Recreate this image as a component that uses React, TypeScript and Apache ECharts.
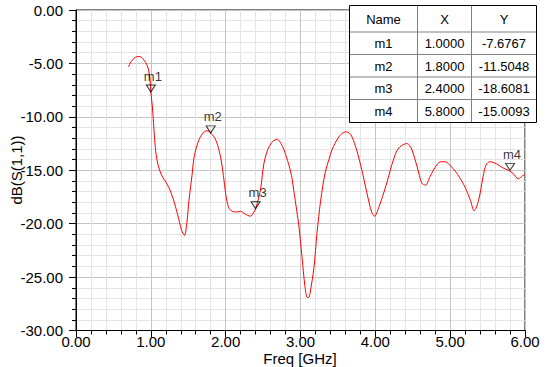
import React, { useEffect, useRef } from "react";
import * as echarts from "echarts";

const freqGHz = [
  0.70, 0.74, 0.78, 0.83, 0.87, 0.91, 0.945, 0.97, 0.99, 1.00, 1.02, 1.035, 1.05, 1.07, 1.10, 1.14, 1.19, 1.24, 1.30,
  1.36, 1.41, 1.45, 1.48, 1.51, 1.55, 1.58, 1.64, 1.70, 1.75, 1.80, 1.87, 1.93, 1.97, 2.00, 2.04, 2.09, 2.15, 2.20,
  2.26, 2.33, 2.37, 2.40, 2.44, 2.47, 2.51, 2.55, 2.58, 2.63, 2.69, 2.74, 2.78, 2.84, 2.88, 2.91, 2.95, 2.98, 3.02,
  3.06, 3.09, 3.11, 3.13, 3.18, 3.22, 3.27, 3.33, 3.38, 3.42, 3.51, 3.60, 3.65, 3.69, 3.75, 3.82, 3.89, 3.95, 3.99,
  4.05, 4.14, 4.22, 4.28, 4.33, 4.42, 4.46, 4.49, 4.56, 4.62, 4.67, 4.73, 4.82, 4.88, 4.93, 5.02, 5.11, 5.20, 5.27,
  5.32, 5.38, 5.44, 5.48, 5.53, 5.62, 5.71, 5.78, 5.84, 5.91, 5.97, 6.00,
];
const s11dB = [
  -5.3, -4.8, -4.5, -4.35, -4.4, -4.7, -5.1, -5.6, -6.6, -7.68, -9.0, -10.5, -12.0, -13.5, -14.6, -15.4, -16.0, -16.6, -17.7,
  -19.2, -20.6, -21.1, -20.0, -17.8, -15.5, -13.7, -12.2, -11.5, -11.3, -11.5, -12.2, -13.7, -15.5, -17.2, -18.5, -18.85, -18.9, -18.85,
  -19.1, -19.3, -19.0, -18.6, -17.6, -16.6, -14.4, -13.3, -12.8, -12.3, -12.1, -12.5, -13.1, -14.4, -15.5, -16.9, -18.8, -20.3, -23.1,
  -25.9, -26.9, -26.9, -26.4, -24.1, -20.9, -17.8, -15.2, -14.0, -13.1, -11.9, -11.4, -11.5, -11.9, -13.1, -15.0, -17.2, -18.9, -19.3,
  -18.4, -16.5, -14.5, -13.3, -12.8, -12.5, -12.7, -13.1, -14.7, -16.2, -16.4, -15.6, -14.5, -14.2, -14.2, -14.7, -15.5, -16.6, -17.8,
  -18.8, -17.8, -15.6, -14.5, -14.2, -14.4, -14.8, -15.0, -15.3, -15.8, -15.5, -15.4,
];

const markerNames = ["m1", "m2", "m3", "m4"];
const markerFreq = [1.0, 1.8, 2.4, 5.8];
const markerDb = [-7.6767, -11.5048, -18.6081, -15.0093];
const tableHeader = ["Name", "X", "Y"];

const xTitle = "Freq [GHz]";
const yTitle = "dB(S(1,1))";

const FONT = 'Arial, "Liberation Sans", sans-serif';

export default function App() {
  const ref = useRef<HTMLDivElement>(null);
  useEffect(() => {
    if (!ref.current) return;
    document.body.style.margin = "0";
    const chart = echarts.init(ref.current, null, { renderer: "svg" });

    const colX = [349, 417, 471, 536];
    const rowY = [5, 31.5, 54, 76.5, 99, 122];
    const tableRows: string[][] = [tableHeader].concat(
      markerNames.map((n, i) => [n, markerFreq[i].toFixed(4), markerDb[i].toFixed(4)])
    );
    const tableEls: any[] = [];
    tableEls.push({
      type: "rect",
      shape: { x: colX[0] + 0.5, y: rowY[0] + 0.5, width: colX[3] - colX[0], height: rowY[5] - rowY[0] },
      style: { fill: "#fff", stroke: "none" },
      z: 100,
    });
    for (let r = 1; r < rowY.length - 1; r++) {
      tableEls.push({
        type: "line",
        shape: { x1: colX[0], y1: rowY[r] + 0.5, x2: colX[3], y2: rowY[r] + 0.5 },
        style: { stroke: "#808080", lineWidth: 1 },
        z: 101,
      });
    }
    for (let c = 1; c < colX.length - 1; c++) {
      tableEls.push({
        type: "line",
        shape: { x1: colX[c] + 0.5, y1: rowY[0], x2: colX[c] + 0.5, y2: rowY[5] },
        style: { stroke: "#808080", lineWidth: 1 },
        z: 101,
      });
    }
    tableEls.push({
      type: "rect",
      shape: { x: colX[0] + 0.5, y: rowY[0] + 0.5, width: colX[3] - colX[0], height: rowY[5] - rowY[0] },
      style: { fill: "none", stroke: "#000", lineWidth: 1 },
      z: 102,
    });
    tableRows.forEach((row, r) => {
      row.forEach((txt, c) => {
        tableEls.push({
          type: "text",
          x: (colX[c] + colX[c + 1]) / 2 + 0.5,
          y: (rowY[r] + rowY[r + 1]) / 2 + 1,
          style: {
            text: txt,
            fill: "#000",
            font: `13px ${FONT}`,
            align: "center",
            verticalAlign: "middle",
          },
          z: 103,
        });
      });
    });

    chart.setOption({
      animation: false,
      backgroundColor: "#fff",
      textStyle: { fontFamily: FONT },
      grid: {
        left: 76,
        right: 21,
        top: 10,
        bottom: 36.5,
        show: true,
        borderColor: "#000",
        borderWidth: 1,
        backgroundColor: "#fff",
        outerBoundsMode: "none",
      },
      xAxis: {
        type: "value",
        min: 0,
        max: 6,
        interval: 1,
        axisLine: { show: true, onZero: false, lineStyle: { color: "#000", width: 1 } },
        axisTick: { show: true, inside: false, length: 7, lineStyle: { color: "#000" } },
        minorTick: { show: true, splitNumber: 5, length: 4, lineStyle: { color: "#000" } },
        splitLine: { show: true, lineStyle: { color: "#c4c4c4", width: 1 } },
        minorSplitLine: { show: true, lineStyle: { color: "#e4e4e4", width: 1 } },
        axisLabel: {
          formatter: (v: number) => v.toFixed(2),
          fontSize: 15,
          lineHeight: 14,
          color: "#000",
          margin: 4,
          fontFamily: FONT,
        },
      },
      yAxis: {
        type: "value",
        min: -30,
        max: 0,
        interval: 5,
        axisLine: { show: true, onZero: false, lineStyle: { color: "#000", width: 1 } },
        axisTick: { show: true, inside: false, length: 7, lineStyle: { color: "#000" } },
        minorTick: { show: true, splitNumber: 5, length: 4, lineStyle: { color: "#000" } },
        splitLine: { show: true, lineStyle: { color: "#c4c4c4", width: 1 } },
        minorSplitLine: { show: true, lineStyle: { color: "#e4e4e4", width: 1 } },
        axisLabel: {
          formatter: (v: number) => v.toFixed(2),
          fontSize: 15,
          color: "#000",
          margin: 13,
          fontFamily: FONT,
        },
      },
      graphic: [
        {
          type: "text",
          x: 300,
          y: 358,
          style: { text: xTitle, font: `15px ${FONT}`, lineHeight: 15, fill: "#000", align: "center", verticalAlign: "middle" },
        },
        {
          type: "text",
          x: 16,
          y: 170,
          rotation: Math.PI / 2,
          style: { text: yTitle, font: `15px ${FONT}`, fill: "#000", align: "center", verticalAlign: "middle" },
        },
        ...tableEls,
      ],
      series: [
        {
          type: "line",
          data: freqGHz.map((f, i) => [f, s11dB[i]]),
          showSymbol: false,
          symbol: "none",
          smooth: 0.3,
          lineStyle: { color: "#ff0000", width: 1 },
          z: 3,
        },
        {
          type: "scatter",
          data: markerFreq.map((f, i) => ({ name: markerNames[i], value: [f, markerDb[i]] })),
          symbol: "path://M0,0L10,0L5,8Z",
          symbolSize: [9, 7],
          symbolOffset: [0, -3.5],
          itemStyle: { color: "rgba(255,255,255,0)", borderColor: "#000", borderWidth: 1 },
          label: {
            show: true,
            position: "top",
            distance: 2,
            offset: [2, 0],
            formatter: (p: any) => p.name,
            fontSize: 13,
            color: "#000",
            fontFamily: FONT,
          },
          z: 4,
        },
      ],
    });
    return () => chart.dispose();
  }, []);
  return <div ref={ref} style={{ width: 546, height: 367 }} />;
}
